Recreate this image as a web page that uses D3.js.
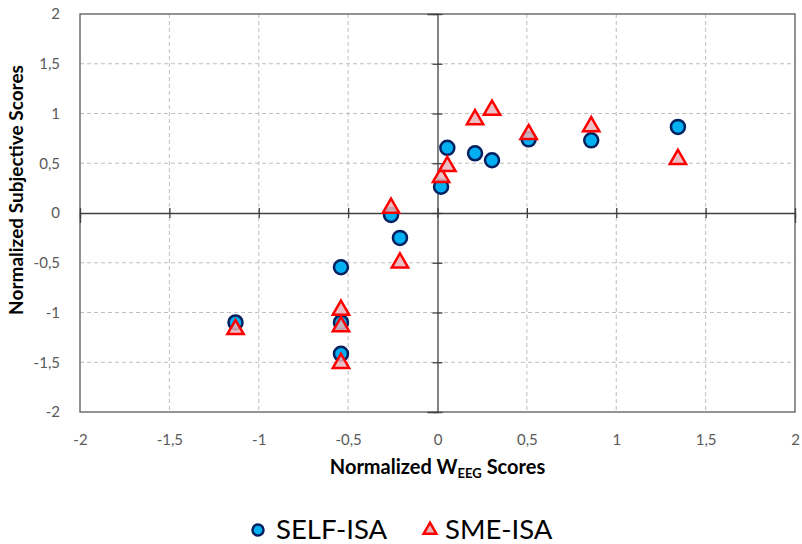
<!DOCTYPE html>
<html>
<head>
<meta charset="utf-8">
<script src="https://cdn.jsdelivr.net/npm/d3@7"></script>
<style>
  html, body { margin: 0; padding: 0; background: #fff; }
  svg { display: block; font-family: "Lato", "Open Sans", sans-serif; }
</style>
</head>
<body>
<svg id="chart" width="802" height="544"></svg>
<script>
// Normalized W_EEG scores (shared by both series)
const weegScores = [-1.13, -0.54, -0.54, -0.54, -0.26, -0.21, 0.02, 0.055, 0.21, 0.305, 0.51, 0.86, 1.345];
// Normalized subjective scores per series
const selfIsa = [-1.10, -0.545, -1.10, -1.415, -0.02, -0.25, 0.265, 0.655, 0.60, 0.53, 0.74, 0.73, 0.865];
const smeIsa  = [-1.17, -0.975, -1.14, -1.51, 0.05, -0.50, 0.36, 0.47, 0.94, 1.035, 0.79, 0.87, 0.54];
const axisTicks = [-2, -1.5, -1, -0.5, 0, 0.5, 1, 1.5, 2];
const seriesNames = ["SELF-ISA", "SME-ISA"];

const svg = d3.select("#chart");
const plot = { left: 80, right: 795, top: 14, bottom: 412 };

const x = d3.scaleLinear().domain([-2, 2]).range([plot.left, plot.right]);
const y = d3.scaleLinear().domain([-2, 2]).range([plot.bottom, plot.top]);
const fmt = v => String(v).replace(".", ",");

// dashed gridlines
const grid = svg.append("g");
axisTicks.filter(t => t !== 0 && Math.abs(t) !== 2).forEach(t => {
  grid.append("line").attr("x1", x(t)).attr("x2", x(t)).attr("y1", plot.top).attr("y2", plot.bottom)
    .attr("stroke", "#bfbfbf").attr("stroke-width", 1).attr("stroke-dasharray", "4,3");
  grid.append("line").attr("y1", y(t)).attr("y2", y(t)).attr("x1", plot.left).attr("x2", plot.right)
    .attr("stroke", "#bfbfbf").attr("stroke-width", 1).attr("stroke-dasharray", "4,3");
});

// plot border
svg.append("rect").attr("x", plot.left).attr("y", plot.top)
  .attr("width", plot.right - plot.left).attr("height", plot.bottom - plot.top)
  .attr("fill", "none").attr("stroke", "#595959").attr("stroke-width", 1.3);

// zero axes with crossing tick marks
const xZero = svg.append("g").attr("transform", `translate(0,${y(0)})`)
  .call(d3.axisBottom(x).tickValues(axisTicks).tickSize(10).tickFormat(""));
xZero.selectAll(".tick line").attr("transform", "translate(0,-5)");
const yZero = svg.append("g").attr("transform", `translate(${x(0)},0)`)
  .call(d3.axisLeft(y).tickValues(axisTicks).tickSize(10).tickFormat(""));
yZero.selectAll(".tick line").attr("transform", "translate(5,0)");
[xZero, yZero].forEach(g => {
  g.selectAll("path.domain").attr("stroke", "#404040").attr("stroke-width", 1.3);
  g.selectAll(".tick line").attr("stroke", "#404040").attr("stroke-width", 1.3);
});

// outer tick labels
const xLab = svg.append("g").attr("transform", `translate(0,${plot.bottom + 19})`)
  .call(d3.axisBottom(x).tickValues(axisTicks).tickSize(0).tickFormat(fmt));
xLab.select(".domain").remove();
const yLab = svg.append("g").attr("transform", `translate(${plot.left - 17},0)`)
  .call(d3.axisLeft(y).tickValues(axisTicks).tickSize(0).tickFormat(fmt));
yLab.select(".domain").remove();
[xLab, yLab].forEach(g => g.selectAll("text")
  .attr("font-family", "Lato, 'Open Sans', sans-serif")
  .attr("font-size", 15).attr("fill", "#595959"));

// axis titles
svg.append("text")
  .attr("transform", `translate(23,${y(0) - 23}) rotate(-90)`)
  .attr("text-anchor", "middle").attr("font-size", 19).attr("font-weight", "bold").attr("fill", "#000")
  .text("Normalized Subjective Scores");
const xt = svg.append("text")
  .attr("x", x(0)).attr("y", 474)
  .attr("text-anchor", "middle").attr("font-size", 20).attr("font-weight", "bold").attr("fill", "#000");
xt.append("tspan").text("Normalized W");
xt.append("tspan").attr("font-size", 13).attr("dy", 4).text("EEG");
xt.append("tspan").attr("dy", -4).text(" Scores");

// marker shapes
const triangle = d3.symbol().type(d3.symbolTriangle).size(115);

const selfData = weegScores.map((w, i) => ({ x: w, y: selfIsa[i] }));
const smeData = weegScores.map((w, i) => ({ x: w, y: smeIsa[i] }));

svg.append("g").selectAll("circle").data(selfData).join("circle")
  .attr("cx", d => x(d.x)).attr("cy", d => y(d.y)).attr("r", 7)
  .attr("fill", "#00B0F0").attr("stroke", "#002060").attr("stroke-width", 2.5);

svg.append("g").selectAll("path").data(smeData).join("path")
  .attr("d", triangle)
  .attr("transform", d => `translate(${x(d.x)},${y(d.y)})`)
  .attr("fill", "#E8B4B8").attr("fill-opacity", 0.85)
  .attr("stroke", "#FF0000").attr("stroke-width", 2.5).attr("stroke-linejoin", "miter");

// legend
const legend = svg.append("g");
legend.append("circle").attr("cx", 258).attr("cy", 530).attr("r", 5.5)
  .attr("fill", "#00B0F0").attr("stroke", "#002060").attr("stroke-width", 2.5);
legend.append("text").attr("x", 276).attr("y", 539).attr("font-size", 27.5).attr("fill", "#000")
  .text(seriesNames[0]);
legend.append("path").attr("d", d3.symbol().type(d3.symbolTriangle).size(70))
  .attr("transform", "translate(430,530)")
  .attr("fill", "#E8B4B8").attr("stroke", "#FF0000").attr("stroke-width", 2.5);
legend.append("text").attr("x", 445).attr("y", 539).attr("font-size", 27.5).attr("fill", "#000")
  .text(seriesNames[1]);
</script>
</body>
</html>
